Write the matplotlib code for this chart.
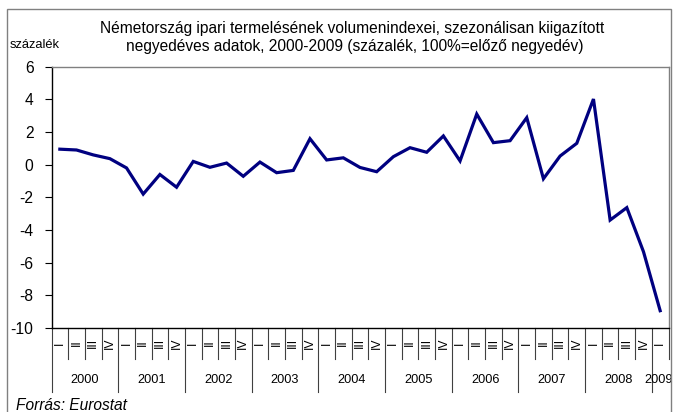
import matplotlib
matplotlib.use("Agg")
import matplotlib.pyplot as plt
from matplotlib.patches import Rectangle
from matplotlib.transforms import blended_transform_factory

plt.rcParams['font.family'] = ['Liberation Sans', 'DejaVu Sans']

title_lines = ["Németország ipari termelésének volumenindexei, szezonálisan kiigazított",
               "negyedéves adatok, 2000-2009 (százalék, 100%=előző negyedév)"]
years = ["2000", "2001", "2002", "2003", "2004", "2005", "2006", "2007", "2008", "2009"]
quarters = ["I", "II", "III", "IV"]
values = [0.95, 0.9, 0.6, 0.37, -0.2, -1.8, -0.6, -1.38, 0.2, -0.16, 0.1, -0.71,
          0.16, -0.49, -0.35, 1.59, 0.29, 0.42, -0.17, -0.43, 0.49, 1.04, 0.76, 1.76,
          0.23, 3.1, 1.35, 1.47, 2.88, -0.86, 0.53, 1.31, 4.02, -3.39, -2.63, -5.33, -8.94]
yticks = [-10, -8, -6, -4, -2, 0, 2, 4, 6]

W, H = 673, 412
fig = plt.figure(figsize=(W / 100, H / 100), dpi=100)
renderer = fig.canvas.get_renderer()


def fit_size(text, target_w, base=10.0, **kw):
    t = fig.text(0, 0, text, fontsize=base, **kw)
    w = t.get_window_extent(renderer).width
    t.remove()
    return base * target_w / w


fs_title = fit_size(title_lines[0], 507)
fs_pct = fit_size("százalék", 50)
fs_year = fit_size("2000", 28.5)
fs_tick = fit_size("-10", 22.5)
fs_src = fit_size("Forrás: Eurostat", 112, style='italic')

left, right, top, bottom = 51.5, 668.5, 66.7, 328.0
ax = fig.add_axes([left / W, 1 - bottom / H, (right - left) / W, (bottom - top) / H])

n = len(values)
xs = list(range(n))
ax.plot(xs, values, color='#000080', lw=2.3, solid_joinstyle='miter')
ax.set_xlim(-0.5, n - 0.5)
ax.set_ylim(-10, 6)
ax.set_yticks(yticks)
ax.set_yticklabels([str(v) for v in yticks], fontsize=fs_tick)
ax.tick_params(axis='y', length=5, width=0.8, pad=8, direction='out')
ax.set_xticks([])
for s in ['top', 'right']:
    ax.spines[s].set_color('#808080')
    ax.spines[s].set_linewidth(1.0)
for s in ['left', 'bottom']:
    ax.spines[s].set_color('black')
    ax.spines[s].set_linewidth(1.0)

ah = bottom - top
tr = blended_transform_factory(ax.transData, ax.transAxes)
for k in range(n + 1):
    x = k - 0.5
    if k % 4 == 0 and k < n:
        y1 = -(392 - bottom) / ah
    else:
        y1 = -(359 - bottom) / ah
    ax.plot([x, x], [0, y1], color='#404040', lw=0.8, transform=tr, clip_on=False)
for i in range(n):
    ax.text(i, -(343 - bottom) / ah, quarters[i % 4], rotation=90, ha='center', va='center',
            fontsize=fs_year * 0.95, transform=tr)
for j, yr in enumerate(years):
    q = [i for i in range(n) if i // 4 == j]
    cx = sum(q) / len(q)
    if len(q) == 1:
        cx -= 0.1
    ax.text(cx, -(380 - bottom) / ah, yr, ha='center', va='center', fontsize=fs_year, transform=tr)

fig.text(352.5 / W, 1 - 28 / H, title_lines[0], ha='center', va='center', fontsize=fs_title)
fig.text(354.5 / W, 1 - 46 / H, title_lines[1], ha='center', va='center', fontsize=fs_title)
fig.text(10 / W, 1 - 45 / H, "százalék", ha='left', va='center', fontsize=fs_pct)
fig.text(16 / W, 1 - 405 / H, "Forrás: Eurostat", ha='left', va='center', fontsize=fs_src,
         style='italic')

fig.patches.append(Rectangle((7 / W, -0.05), (671 - 7) / W, 0.05 + 1 - 9 / H,
                             transform=fig.transFigure, fill=False, edgecolor='#808080', lw=1.0))

fig.savefig("out.png", dpi=100)
